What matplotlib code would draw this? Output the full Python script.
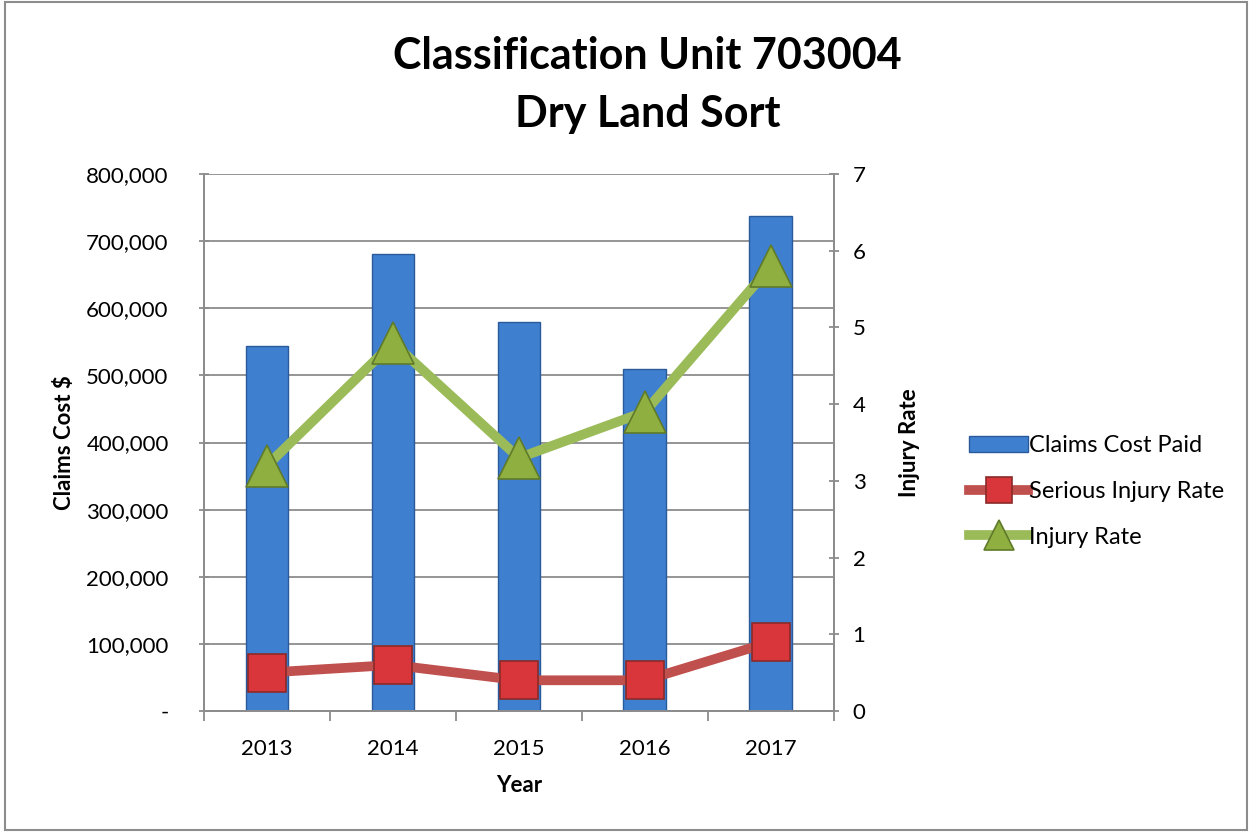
import matplotlib.pyplot as plt
import numpy as np
from matplotlib.patches import Rectangle

plt.rcParams['font.family'] = ['Lato', 'DejaVu Sans']

# data
years = ['2013', '2014', '2015', '2016', '2017']
claims_cost = [544000, 681000, 580000, 510000, 738000]
serious_rate = [0.5, 0.6, 0.4, 0.4, 0.9]
injury_rate = [3.2, 4.8, 3.3, 3.9, 5.8]

fig = plt.figure(figsize=(12.52, 8.33), dpi=100)
ax = fig.add_axes([0.163, 0.1465, 0.503, 0.6445])
ax2 = ax.twinx()

x = np.arange(len(years))
bars = ax.bar(x, claims_cost, width=0.34, color='#3f7fd0', edgecolor='#2a5a9a',
              linewidth=1, zorder=2, label='Claims Cost Paid')

ax.set_ylim(0, 800000)
ax.set_xlim(-0.5, len(years) - 0.5)
ax.set_yticks(np.arange(0, 800001, 100000))
ax.set_yticklabels(['-'] + [f'{v:,}' for v in range(100000, 800001, 100000)])
ax.yaxis.grid(True, color='#8c8c8c', linewidth=1.3, zorder=0)
ax.set_axisbelow(True)

# category ticks sit between the bars, labels in the middle
ax.set_xticks(np.arange(-0.5, len(years), 1.0))
ax.set_xticklabels([])
ax.set_xticks(x, minor=True)
ax.set_xticklabels(years, minor=True)
ax.tick_params(axis='x', which='major', length=7, color='#8c8c8c', width=1.3)
ax.tick_params(axis='x', which='minor', length=0, labelsize=16, pad=20)
ax.tick_params(axis='y', labelsize=16, length=7, direction='inout',
               color='#8c8c8c', width=1.3, pad=22)

for a in (ax, ax2):
    a.spines['top'].set_visible(False)
    for s in ['left', 'right', 'bottom']:
        a.spines[s].set_color('#8c8c8c')
        a.spines[s].set_linewidth(1.3)

ax2.set_ylim(0, 7)
ax2.set_yticks(range(0, 8))
ax2.tick_params(axis='y', labelsize=16, length=7, direction='inout',
                color='#8c8c8c', width=1.3, pad=10)

l1, = ax2.plot(x, serious_rate, color='#c0504d', linewidth=7, marker='s',
               markersize=27, markerfacecolor='#d8363a', markeredgecolor='#8a2a28',
               markeredgewidth=1.2, label='Serious Injury Rate', zorder=3)
l2, = ax2.plot(x, injury_rate, color='#9bbb59', linewidth=7, marker='^',
               markersize=30, markerfacecolor='#8fb040', markeredgecolor='#5f7a2a',
               markeredgewidth=1.2, label='Injury Rate', zorder=3)

ax.set_xlabel('Year', fontsize=16, fontweight='bold', labelpad=12)
ax.set_ylabel('Claims Cost $', fontsize=16, fontweight='bold', labelpad=8)
ax2.set_ylabel('Injury Rate', fontsize=16, fontweight='bold', labelpad=24)

fig.suptitle('Classification Unit 703004\nDry Land Sort', fontsize=31,
             fontweight='bold', x=0.517, y=0.957, linespacing=1.55)

fig.legend(handles=[bars, l1, l2], loc='center left',
           bbox_to_anchor=(0.757, 0.41), frameon=False, fontsize=17,
           handlelength=2.5, handletextpad=0.05, labelspacing=1.05,
           markerscale=0.7)

fig.patches.append(Rectangle((0.004, 0.004), 0.992, 0.993, transform=fig.transFigure,
                             fill=False, edgecolor='#8c8c8c', linewidth=1.5))

fig.savefig('out.png', dpi=100)
